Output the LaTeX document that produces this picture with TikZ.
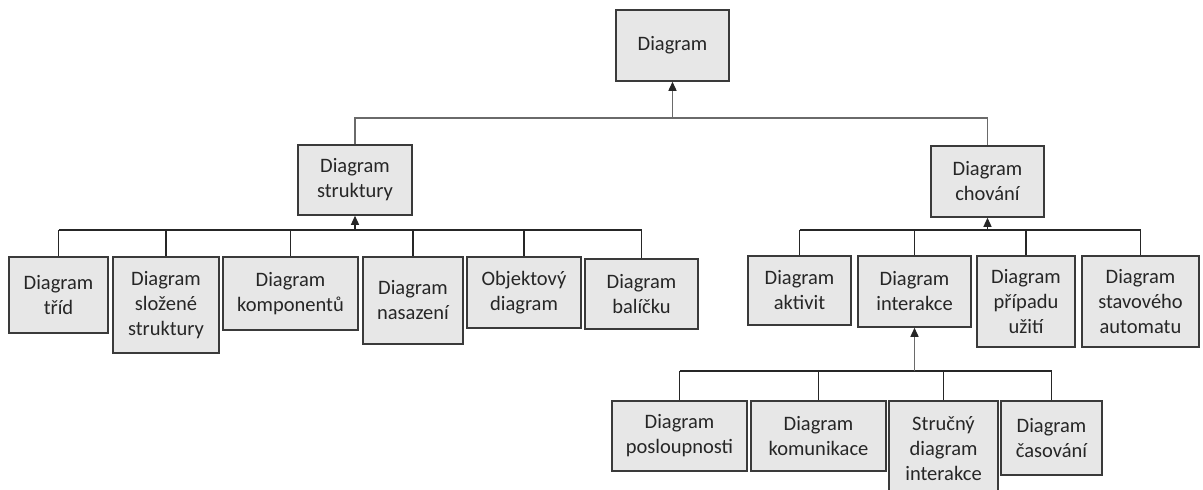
\documentclass[tikz,border=0pt]{standalone}
\usepackage{fontspec}
\setmainfont{Carlito}
\usetikzlibrary{arrows.meta}
\definecolor{boxfill}{HTML}{E7E7E7}
\definecolor{boxline}{HTML}{3A3A3A}
\definecolor{txt}{HTML}{262626}
\definecolor{conn}{HTML}{262626}
\definecolor{connlight}{HTML}{6A6A6A}
\tikzset{
  ubox/.style={draw=boxline, fill=boxfill, line width=1.5pt, inner sep=0pt,
    align=center, text=txt, font=\fontsize{20.5}{25}\selectfont},
  link/.style={draw=conn, line width=1.2pt},
  linklight/.style={draw=connlight, line width=1.4pt},
  tip/.style={-{Triangle[width=8pt,length=9pt,color=conn]}}
}
\begin{document}
\begin{tikzpicture}[x=1pt,y=-1pt]
\useasboundingbox (0,0) rectangle (1203,490);
% top
\node[ubox, minimum width=113pt, minimum height=71pt] (D) at (672.5,45.5) {Diagram};
\node[ubox, minimum width=114pt, minimum height=70pt] (S) at (355,180) {Diagram\\struktury};
\node[ubox, minimum width=113pt, minimum height=71pt] (C) at (987.5,181.5) {Diagram\\chování};
% structure children
\node[ubox, minimum width=99pt, minimum height=76pt] (s1) at (58.5,295) {Diagram\\tříd};
\node[ubox, minimum width=106pt, minimum height=96pt] (s2) at (166,305) {Diagram\\složené\\struktury};
\node[ubox, minimum width=135pt, minimum height=73pt] (s3) at (290.5,293.5) {Diagram\\komponentů};
\node[ubox, minimum width=100pt, minimum height=87pt] (s4) at (413,300.5) {Diagram\\nasazení};
\node[ubox, minimum width=114pt, minimum height=71pt] (s5) at (524,292.5) {Objektový\\diagram};
\node[ubox, minimum width=113pt, minimum height=70pt] (s6) at (641.5,294) {Diagram\\balíčku};
% behaviour children
\node[ubox, minimum width=103pt, minimum height=69pt] (b1) at (799.5,290.5) {Diagram\\aktivit};
\node[ubox, minimum width=113pt, minimum height=71pt] (b2) at (914.5,291.5) {Diagram\\interakce};
\node[ubox, minimum width=98pt, minimum height=91pt] (b3) at (1026,301.5) {Diagram\\případu\\užití};
\node[ubox, minimum width=117pt, minimum height=91pt] (b4) at (1140.5,301.5) {Diagram\\stavového\\automatu};
% interaction children
\node[ubox, minimum width=135pt, minimum height=70pt] (i1) at (679.5,436) {Diagram\\posloupnosti};
\node[ubox, minimum width=135pt, minimum height=70pt] (i2) at (818.5,436) {Diagram\\komunikace};
\node[ubox, minimum width=109pt, minimum height=96pt] (i3) at (943.5,449) {Stručný\\diagram\\interakce};
\node[ubox, minimum width=101pt, minimum height=74pt] (i4) at (1051.5,438) {Diagram\\časování};
% buses
\coordinate (busT) at (0,118);
\coordinate (busS) at (0,230);
\coordinate (busB) at (0,230);
\coordinate (busI) at (0,371);
% top bus
\draw[linklight] (S.north) -- (S.north |- busT) -- (C.north |- busT) -- (C.north);
\draw[linklight, tip] (D.south |- busT) -- (D.south);
% structure bus
\draw[link] (s1.north |- busS) -- (s6.north |- busS);
\foreach \n in {s1,s2,s3,s4,s5,s6} \draw[link] (\n.north) -- (\n.north |- busS);
\draw[link, tip] (S.south |- busS) -- (S.south);
% behaviour bus
\draw[link] (b1.north |- busB) -- (b4.north |- busB);
\foreach \n in {b1,b2,b3,b4} \draw[link] (\n.north) -- (\n.north |- busB);
\draw[link, tip] (C.south |- busB) -- (C.south);
% interaction bus
\draw[link] (i1.north |- busI) -- (i4.north |- busI);
\foreach \n in {i1,i2,i3,i4} \draw[link] (\n.north) -- (\n.north |- busI);
\draw[linklight, tip] (b2.south |- busI) -- (b2.south);
\end{tikzpicture}
\end{document}
